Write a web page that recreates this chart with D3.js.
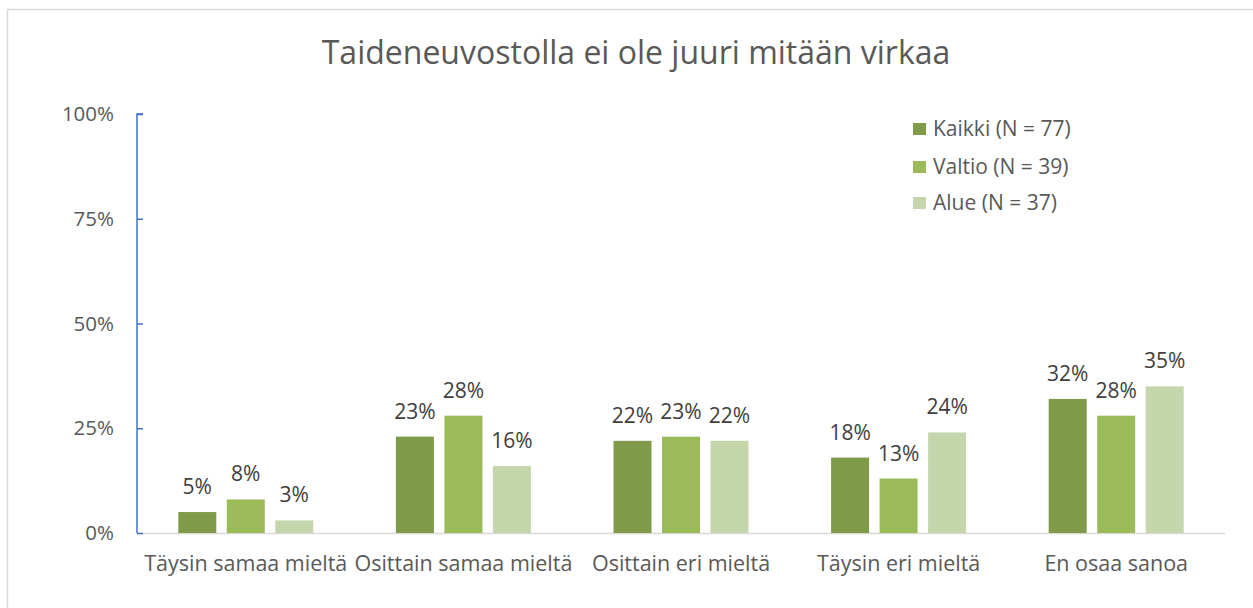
<!DOCTYPE html>
<html><head><meta charset="utf-8">
<script src="https://cdn.jsdelivr.net/npm/d3@7"></script>
<style>
body{margin:0;background:#fff;}
svg text{font-family:"Open Sans","Noto Sans",sans-serif;}
</style></head>
<body>
<svg id="c" width="1253" height="608"></svg>
<script>
const title = "Taideneuvostolla ei ole juuri mitään virkaa";
const categories = ["Täysin samaa mieltä","Osittain samaa mieltä","Osittain eri mieltä","Täysin eri mieltä","En osaa sanoa"];
const seriesNames = ["Kaikki (N = 77)","Valtio (N = 39)","Alue (N = 37)"];
const kaikki = [5,23,22,18,32];
const valtio = [8,28,23,13,28];
const alue = [3,16,22,24,35];
const yTicks = [0,25,50,75,100];
const colors = ["#7f9a48","#9bbb59","#c6d6ac"];

const series = [kaikki, valtio, alue];
const svg = d3.select("#c");
svg.append("rect").attr("x",7.5).attr("y",9.5).attr("width",1260).attr("height",620)
  .attr("fill","#fff").attr("stroke","#d9d9d9").attr("stroke-width",1.5);

const x0 = 137, x1 = 1225, yTop = 114, yBot = 533;
const x = d3.scaleBand().domain(categories).range([x0,x1]).paddingInner(0).paddingOuter(0);
const y = d3.scaleLinear().domain([0,100]).range([yBot,yTop]);
const bw = 38, step = 48.5;

svg.append("text").attr("x",636).attr("y",64).attr("text-anchor","middle")
  .attr("font-size",32).attr("fill","#595959").text(title);

// x baseline
svg.append("line").attr("x1",x0).attr("x2",x1).attr("y1",yBot+0.5).attr("y2",yBot+0.5)
  .attr("stroke","#d9d9d9").attr("stroke-width",1.5);

// y axis
const yAxis = d3.axisRight(y).tickValues(yTicks).tickSize(6).tickFormat("");
const ga = svg.append("g").attr("transform",`translate(${x0},0)`).call(yAxis);
ga.select(".domain").attr("stroke","#4472c4").attr("stroke-width",1.5).attr("d",`M6,${yTop}H0V${yBot}`);
ga.selectAll(".tick line").attr("stroke","#4472c4").attr("stroke-width",1.5);
svg.selectAll(".ylab").data(yTicks).enter().append("text")
  .attr("x",114).attr("y",d=>y(d)).attr("dy","0.35em").attr("text-anchor","end")
  .attr("font-size",20.5).attr("fill","#595959").text(d=>d+"%");

// bars
series.forEach((s,si)=>{
  const g = svg.append("g");
  g.selectAll("rect").data(s).enter().append("rect")
    .attr("x",(d,i)=>x(categories[i])+x.bandwidth()/2+(si-1)*step-bw/2)
    .attr("y",d=>y(d)).attr("width",bw).attr("height",d=>yBot-y(d))
    .attr("fill",colors[si]);
  g.selectAll("text").data(s).enter().append("text")
    .attr("x",(d,i)=>x(categories[i])+x.bandwidth()/2+(si-1)*step)
    .attr("y",d=>y(d)-18).attr("text-anchor","middle")
    .attr("font-size",21).attr("fill","#404040").text(d=>d+"%");
});

// x labels
svg.selectAll(".xlab").data(categories).enter().append("text")
  .attr("x",d=>x(d)+x.bandwidth()/2).attr("y",571).attr("text-anchor","middle")
  .attr("font-size",21.5).attr("fill","#595959").text(d=>d);

// legend
const ly = [129,167,203];
seriesNames.forEach((n,i)=>{
  svg.append("rect").attr("x",913).attr("y",ly[i]-6).attr("width",13).attr("height",12).attr("fill",colors[i]);
  svg.append("text").attr("x",933).attr("y",ly[i]).attr("dy","0.35em")
    .attr("font-size",21).attr("fill","#595959").text(n);
});
</script>
</body></html>
